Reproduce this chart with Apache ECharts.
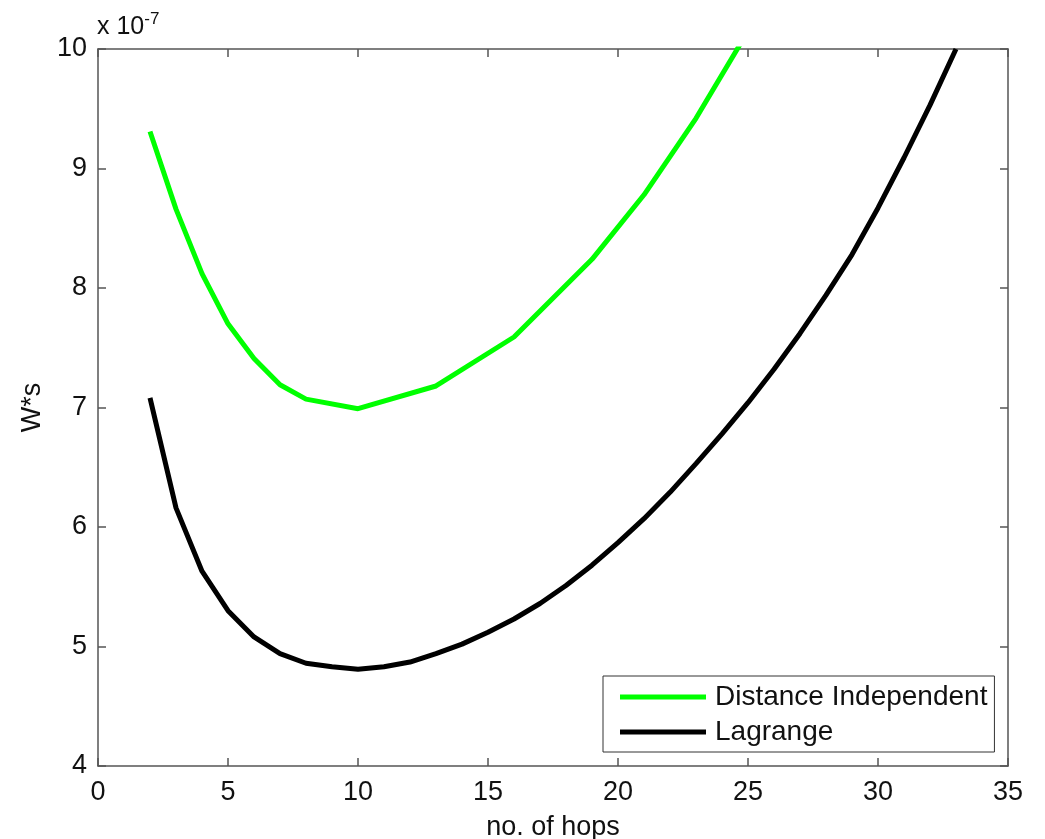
<!DOCTYPE html>
<html>
<head>
<meta charset="utf-8">
<script src="https://cdn.jsdelivr.net/npm/echarts@6/dist/echarts.min.js"></script>
<style>
  html, body { margin: 0; padding: 0; background: #fff; }
  #chart { width: 1045px; height: 839px; }
</style>
</head>
<body>
<div id="chart"></div>
<script>
// values in units of 1e-7 W*s
const hopsDistIndep = [2, 3, 4, 5, 6, 7, 8, 10, 13, 16, 19, 21, 23, 25];
const energyDistIndep = [9.31, 8.66, 8.12, 7.70, 7.41, 7.19, 7.07, 6.99, 7.18, 7.59, 8.24, 8.78, 9.42, 10.15];

const hopsLagrange = [2, 3, 4, 5, 6, 7, 8, 9, 10, 11, 12, 13, 14, 15, 16, 17, 18, 19, 20, 21, 22, 23, 24, 25, 26, 27, 28, 29, 30, 31, 32, 33];
const energyLagrange = [7.08, 6.16, 5.63, 5.30, 5.08, 4.94, 4.86, 4.83, 4.81, 4.83, 4.87, 4.94, 5.02, 5.12, 5.23, 5.36, 5.51, 5.68, 5.87, 6.07, 6.29, 6.53, 6.78, 7.04, 7.32, 7.62, 7.94, 8.28, 8.67, 9.09, 9.53, 10.0];

const seriesNames = ["Distance Independent", "Lagrange"];
const font = "'Liberation Sans', Arial, Helvetica, sans-serif";
const textColor = "#111";

const pair = (xs, ys) => xs.map((x, i) => [x, ys[i]]);

const axisLineStyle = { onZero: false, lineStyle: { color: "#555", width: 1.5 } };
const tickStyle = { show: true, inside: true, length: 8, lineStyle: { color: "#555", width: 1.5 } };

let chart;

const initChart = () => {
  chart = echarts.init(document.getElementById("chart"));
  chart.setOption({
    animation: false,
    backgroundColor: "#fff",
    grid: { left: 98, right: 37, top: 49, bottom: 73, outerBoundsMode: "none" },
    graphic: [{
      type: "text",
      left: 97,
      top: 11,
      style: {
        text: "x 10{sup|-7}",
        font: "25px " + font,
        fill: textColor,
        rich: { sup: { fontSize: 17, fontFamily: font, verticalAlign: "top", padding: [0, 0, 16, 0] } }
      }
    }],
    legend: {
      orient: "vertical",
      left: 603,
      top: 676,
      padding: [7, 7, 6, 17],
      itemGap: 7,
      itemWidth: 86,
      itemHeight: 5,
      icon: "rect",
      borderColor: "#333",
      borderWidth: 1,
      backgroundColor: "#fff",
      textStyle: { fontSize: 28, fontFamily: font, color: textColor, padding: [0, 0, 0, 4] },
      data: seriesNames
    },
    xAxis: [{
      type: "value",
      position: "bottom",
      min: 0, max: 35, interval: 5,
      name: "no. of hops",
      nameLocation: "middle",
      nameGap: 48,
      nameTextStyle: { fontSize: 27, fontFamily: font, color: textColor },
      axisLine: axisLineStyle,
      axisTick: tickStyle,
      axisLabel: { fontSize: 27, fontFamily: font, color: textColor, margin: 13 },
      splitLine: { show: false }
    }, {
      type: "value",
      position: "top",
      min: 0, max: 35, interval: 5,
      axisLine: axisLineStyle,
      axisTick: tickStyle,
      axisLabel: { show: false },
      splitLine: { show: false }
    }],
    yAxis: [{
      type: "value",
      position: "left",
      min: 4, max: 10, interval: 1,
      name: "W*s",
      nameLocation: "middle",
      nameGap: 52,
      nameTextStyle: { fontSize: 27, fontFamily: font, color: textColor },
      axisLine: axisLineStyle,
      axisTick: tickStyle,
      axisLabel: { fontSize: 27, fontFamily: font, color: textColor, margin: 11 },
      splitLine: { show: false }
    }, {
      type: "value",
      position: "right",
      min: 4, max: 10, interval: 1,
      axisLine: axisLineStyle,
      axisTick: tickStyle,
      axisLabel: { show: false },
      splitLine: { show: false }
    }],
    series: [{
      name: seriesNames[0],
      type: "line",
      data: pair(hopsDistIndep, energyDistIndep),
      showSymbol: false,
      clip: true,
      color: "#00ff00",
      lineStyle: { color: "#00ff00", width: 5 }
    }, {
      name: seriesNames[1],
      type: "line",
      data: pair(hopsLagrange, energyLagrange),
      showSymbol: false,
      clip: true,
      color: "#000",
      lineStyle: { color: "#000", width: 5 }
    }]
  });
};

document.addEventListener("DOMContentLoaded", function () {
  initChart();
});

window.addEventListener("resize", function () {
  chart.resize();
});
</script>
</body>
</html>
